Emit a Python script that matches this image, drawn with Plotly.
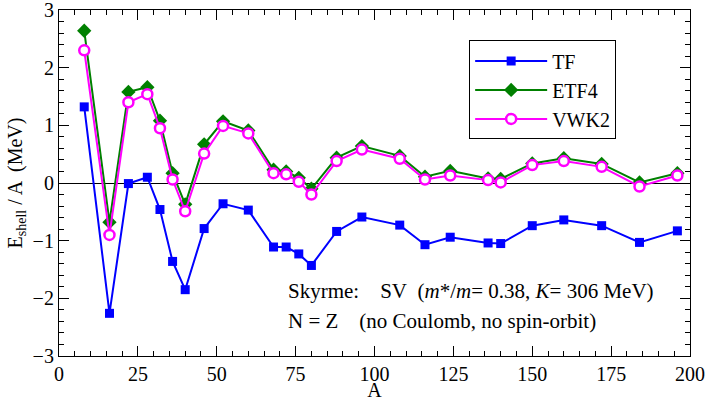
import plotly.graph_objects as go

# mass numbers of the N = Z nuclei
A = [8, 16, 22, 28, 32, 36, 40, 46, 52, 60, 68, 72, 76, 80, 88, 96,
     108, 116, 124, 136, 140, 150, 160, 172, 184, 196]

tf = [1.32, -2.26, -0.01, 0.10, -0.46, -1.36, -1.85, -0.79, -0.36, -0.47,
      -1.11, -1.11, -1.23, -1.43, -0.84, -0.59, -0.73, -1.07, -0.94,
      -1.04, -1.05, -0.74, -0.64, -0.74, -1.03, -0.83]

etf4 = [2.64, -0.68, 1.58, 1.66, 1.08, 0.17, -0.37, 0.67, 1.07, 0.91,
        0.23, 0.20, 0.09, -0.10, 0.44, 0.64, 0.47, 0.11, 0.21,
        0.08, 0.07, 0.34, 0.43, 0.33, 0.01, 0.17]

vwk2 = [2.30, -0.90, 1.40, 1.54, 0.95, 0.06, -0.49, 0.51, 0.99, 0.86,
        0.17, 0.15, 0.02, -0.20, 0.38, 0.58, 0.42, 0.06, 0.13,
        0.05, 0.01, 0.31, 0.38, 0.28, -0.06, 0.13]

font = "'Liberation Serif'"
sp = "&nbsp;"

fig = go.Figure()
fig.add_trace(go.Scatter(x=A, y=tf, name="TF", mode="lines+markers",
                         line=dict(color="#0000ff", width=2),
                         marker=dict(symbol="square", size=9, color="#0000ff")))
fig.add_trace(go.Scatter(x=A, y=etf4, name="ETF4", mode="lines+markers",
                         line=dict(color="#008000", width=2),
                         marker=dict(symbol="diamond", size=11, color="#008000")))
fig.add_trace(go.Scatter(x=A, y=vwk2, name="VWK2", mode="lines+markers",
                         line=dict(color="#ff00ff", width=2),
                         marker=dict(symbol="circle", size=10, color="white",
                                     line=dict(color="#ff00ff", width=2.5))))

axis_common = dict(showline=True, linecolor="black", linewidth=1.2,
                   mirror="allticks", ticks="inside", ticklen=10, tickwidth=1,
                   tickcolor="black", showgrid=False, automargin=False,
                   ticklabeloverflow="allow",
                   tickfont=dict(family=font, size=20, color="black"))

fig.update_xaxes(range=[0, 200], dtick=25, tick0=0,
                 minor=dict(dtick=5, ticks="inside", ticklen=5, tickcolor="black"),
                 title=dict(text="A", font=dict(family=font, size=20, color="black"),
                            standoff=5),
                 zeroline=False, **axis_common)
fig.update_yaxes(range=[-3, 3], dtick=1, tick0=0,
                 minor=dict(dtick=0.2, ticks="inside", ticklen=5, tickcolor="black"),
                 title=dict(text="E<sub>shell</sub> / A  (MeV)",
                            font=dict(family=font, size=20, color="black"),
                            standoff=4),
                 zeroline=True, zerolinecolor="black", zerolinewidth=1,
                 **axis_common)

fig.add_annotation(x=72, y=-1.87, xref="x", yref="y", xanchor="left", showarrow=False,
                   text="Skyrme:" + sp * 4 + "SV" + sp * 2 +
                        "(<i>m</i>*/<i>m</i>= 0.38, <i>K</i>= 306 MeV)",
                   font=dict(family=font, size=21, color="black"))
fig.add_annotation(x=72, y=-2.39, xref="x", yref="y", xanchor="left", showarrow=False,
                   text="N = Z" + sp * 4 + "(no Coulomb, no spin-orbit)",
                   font=dict(family=font, size=21, color="black"))

fig.update_layout(
    width=708, height=401,
    margin=dict(l=59, r=18, t=10, b=45),
    plot_bgcolor="white", paper_bgcolor="white",
    showlegend=True,
    legend=dict(x=0.65, y=0.912, xanchor="left", yanchor="top",
                bordercolor="black", borderwidth=1, bgcolor="white",
                font=dict(family=font, size=20, color="black"),
                itemwidth=72, tracegroupgap=0),
)

# drop the default 8 px body margin so the figure fills the window
fig.write_html("out.html", config={"displayModeBar": False},
               post_script="document.body.style.margin='0';")
